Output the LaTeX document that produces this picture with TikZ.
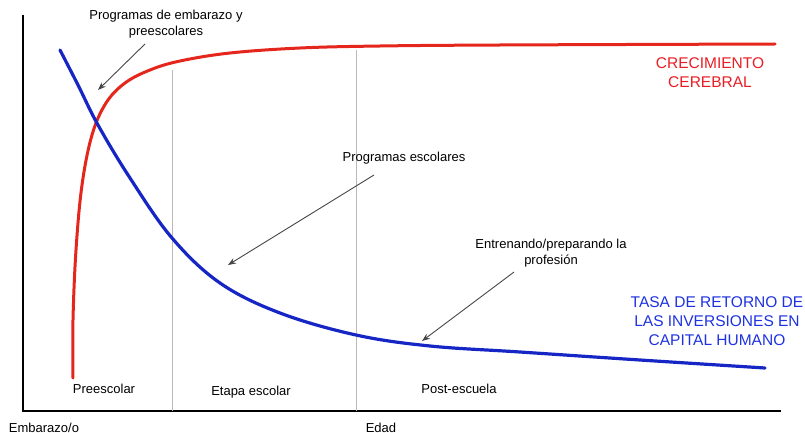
\documentclass[tikz,border=0pt]{standalone}
\usepackage{fontspec}
\setmainfont{Liberation Sans}
\usetikzlibrary{arrows.meta}
\definecolor{redc}{RGB}{228,38,28}
\definecolor{bluec}{RGB}{22,38,196}
\definecolor{redt}{RGB}{232,30,36}
\definecolor{bluet}{RGB}{30,50,225}
\definecolor{arrowc}{RGB}{70,70,70}
\tikzset{
  lbl/.style={font=\fontsize{13}{16.5}\selectfont, align=center, inner sep=0pt, text=black},
  biglbl/.style={font=\fontsize{15.5}{19}\selectfont, align=center, inner sep=0pt},
  pointer/.style={draw=arrowc, line width=0.9pt, -{Stealth[length=8pt,width=6pt]}},
  grid/.style={draw=gray!55, line width=0.8pt},
  axis/.style={draw=black, line width=2pt}
}
\begin{document}
\begin{tikzpicture}[x=1pt,y=-1pt]
\useasboundingbox (0,0) rectangle (805,433);
% axes
\coordinate (o) at (23,411);
\coordinate (ytop) at (23,15);
\coordinate (xend) at (781,411);
\draw[axis] (ytop) -- (o) -- (xend);
% stage separators
\coordinate (g1t) at (172,70);
\coordinate (g1b) at (172,411);
\coordinate (g2t) at (356,50);
\coordinate (g2b) at (356,411);
\draw[grid] (g1t) -- (g1b);
\draw[grid] (g2t) -- (g2b);
% red curve
\draw[redc, line width=3pt, line cap=round] plot[smooth, tension=0.6] coordinates {
 (73,378) (73,320) (76,250) (82,185) (92,135) (106,103) (125,83) (150,70) (180,61) (230,53) (300,48) (380,46) (500,45) (775,44)};
% blue curve
\draw[bluec, line width=3.2pt, line cap=round] plot[smooth, tension=0.6] coordinates {
 (60,50) (78,85) (98,125) (130,178) (172,238) (220,283) (280,313) (356,335) (430,346) (520,352) (640,360) (765,368)};
% labels
\node[lbl] (pe) at (166,24) {Programas de embarazo y\\preescolares};
\coordinate (pet) at (98,90);
\draw[pointer] (145,44) -- (pet);
\node[lbl] (ps) at (404,158) {Programas escolares};
\coordinate (pst) at (228,265);
\draw[pointer] (374,175) -- (pst);
\node[lbl] (ep) at (551,253) {Entrenando/preparando la\\profesión};
\coordinate (ept) at (422,341);
\draw[pointer] (514,272) -- (ept);
\node[biglbl, text=redt] (cc) at (710,73) {CRECIMIENTO\\CEREBRAL};
\node[biglbl, text=bluet] (tr) at (717,321) {TASA DE RETORNO DE\\LAS INVERSIONES EN\\CAPITAL HUMANO};
\node[lbl] (pre) at (104,389) {Preescolar};
\node[lbl] (eta) at (251,392) {Etapa escolar};
\node[lbl] (post) at (459,389) {Post-escuela};
\node[lbl, anchor=base] (emb) at (44,432.5) {Embarazo/o};
\node[lbl, anchor=base] (ed) at (381,432.5) {Edad};
\end{tikzpicture}
\end{document}
